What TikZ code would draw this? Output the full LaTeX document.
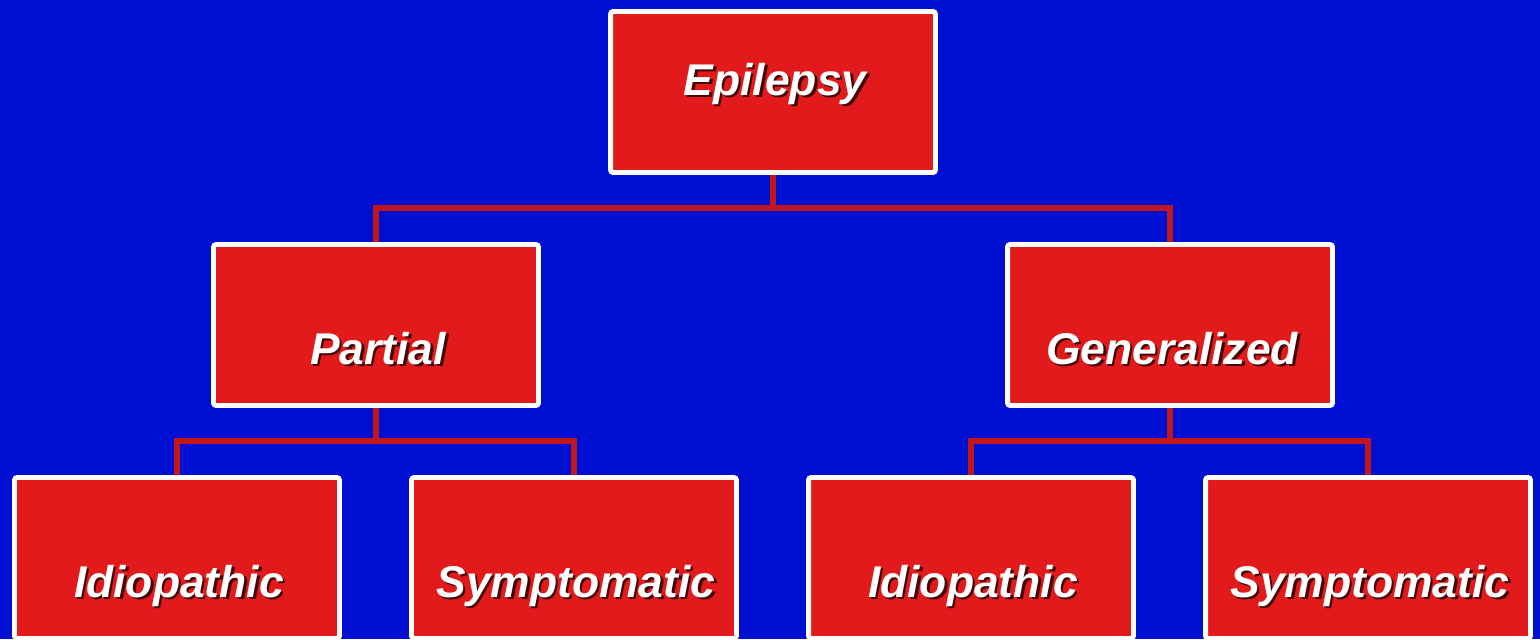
\documentclass[tikz,border=0pt]{standalone}
\usepackage{fontspec}
\setmainfont{Liberation Sans}
\definecolor{bgblue}{RGB}{0,16,210}
\definecolor{boxred}{RGB}{227,26,28}
\definecolor{lnred}{RGB}{192,22,28}
\newcommand{\shtext}[3]{%
  \node[sh] at ([shift={(2.5,2.5)}]#2) {#3};
  \node[tx] (#1) at (#2) {#3};}
\begin{document}
\begin{tikzpicture}[x=0.02cm, y=-0.02cm]
\tikzstyle{bx}=[draw=white, fill=boxred, line width=2.8pt, rounded corners=1.5pt, minimum width=6.5cm, minimum height=3.22cm, inner sep=0pt]
\tikzstyle{tx}=[text=white, anchor=base, inner sep=0pt, font=\fontsize{25.3}{30}\selectfont\bfseries\itshape]
\tikzstyle{sh}=[tx, text=black, text opacity=0.7]
\tikzstyle{ln}=[draw=lnred, line width=3.2pt]
\fill[bgblue] (0,0) rectangle (1540,639);
\useasboundingbox (0,0) rectangle (1540,639);

\node[bx] (E) at (773,92) {};
\node[bx] (P) at (376,325) {};
\node[bx] (G) at (1170,325) {};

\node[bx] (PI) at (177,558) {};
\node[bx] (PS) at (574,558) {};
\node[bx] (GI) at (971,558) {};
\node[bx] (GS) at (1368,558) {};

\draw[ln] (E.south) -- ++(0,33) -| (P.north);
\draw[ln] (E.south) -- ++(0,33) -| (G.north);
\draw[ln] (P.south) -- ++(0,33) -| (PI.north);
\draw[ln] (P.south) -- ++(0,33) -| (PS.north);
\draw[ln] (G.south) -- ++(0,33) -| (GI.north);
\draw[ln] (G.south) -- ++(0,33) -| (GS.north);

\shtext{tE}{775,95}{Epilepsy}
\shtext{tP}{378,364}{Partial}
\shtext{tG}{1172,364}{Generalized}
\shtext{tPI}{179,597}{Idiopathic}
\shtext{tPS}{576,597}{Symptomatic}
\shtext{tGI}{973,597}{Idiopathic}
\shtext{tGS}{1370,597}{Symptomatic}
\end{tikzpicture}
\end{document}
